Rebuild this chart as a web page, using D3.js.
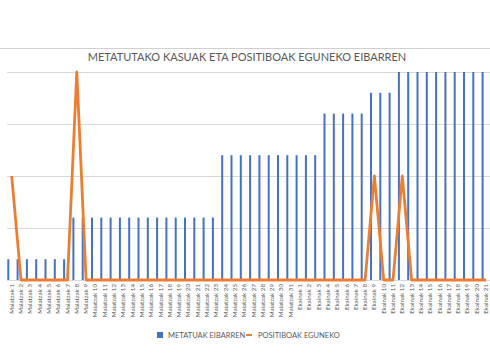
<!DOCTYPE html>
<html><head><meta charset="utf-8">
<script src="https://cdn.jsdelivr.net/npm/d3@7"></script>
<style>body{margin:0;background:#fff}svg{display:block}text{font-family:Lato,"Open Sans",sans-serif}</style>
</head><body><svg id="c" width="490" height="360"></svg>
<script>
const may = d3.range(1,32).map(d=>"Maiatzak "+d);
const jun = d3.range(1,22).map(d=>"Ekainak "+d);
const categories = may.concat(jun);
const metatuak = [1,1,1,1,1,1,1, 3,3,3,3,3,3,3,3,3,3,3,3,3,3,3,3, 6,6,6,6,6,6,6,6, 6,6,6, 8,8,8,8,8, 9,9,9, 10,10,10,10,10,10,10,10,10,10];
const positiboak = [2,0,0,0,0,0,0,4,0,0,0,0,0,0,0,0,0,0,0,0,0,0,0,0,0,0,0,0,0,0,0, 0,0,0,0,0,0,0,0,2,0,0,2,0,0,0,0,0,0,0,0,0];
const lineTicks = [0,1,2,3,4];
const title = "METATUTAKO KASUAK ETA POSITIBOAK EGUNEKO EIBARREN";
const seriesNames = ["METATUAK EIBARREN","POSITIBOAK EGUNEKO"];

const svg = d3.select("#c");
const x = d3.scaleBand().domain(categories).range([7.05, 490.65]).padding(0);
const yL = d3.scaleLinear().domain([0,4]).range([280,72]);
const yB = d3.scaleLinear().domain([0,10]).range([280,72]);

svg.append("line").attr("x1",0).attr("x2",490).attr("y1",48.5).attr("y2",48.5).attr("stroke","#d0d0d0").attr("stroke-width",1);
svg.append("text").attr("x",247).attr("y",61).attr("text-anchor","middle").attr("font-size",11).attr("fill","#595959").text(title);

svg.append("g").selectAll("line").data(lineTicks).join("line")
  .attr("x1",7).attr("x2",490).attr("y1",d=>Math.round(yL(d))+0.5).attr("y2",d=>Math.round(yL(d))+0.5)
  .attr("stroke","#d9d9d9").attr("stroke-width",1);

const bw = 2;
svg.append("g").selectAll("rect").data(metatuak).join("rect")
  .attr("x",(d,i)=>x(categories[i])+x.bandwidth()/2-3.4-bw/2)
  .attr("y",d=>yB(d)).attr("width",bw).attr("height",d=>yB(0)-yB(d))
  .attr("fill","#4472C4");

const line = d3.line().x((d,i)=>x(categories[i])+x.bandwidth()/2).y(d=>yL(d));
svg.append("path").datum(positiboak).attr("d",line).attr("fill","none")
  .attr("stroke","#ED7D31").attr("stroke-width",2.8).attr("stroke-linejoin","round");

const xa = d3.axisBottom(x).tickSize(0).tickPadding(0);
const gx = svg.append("g").attr("transform","translate(0,282)").call(xa);
gx.select(".domain").remove();
gx.selectAll("text").attr("font-size",6.2).attr("fill","#595959")
  .attr("text-anchor","end").attr("transform","rotate(-90)").attr("x",-2).attr("y",0).attr("dy","0.33em")
  .style("font-family","Lato,sans-serif");

const lg = svg.append("g");
lg.append("rect").attr("x",157).attr("y",332).attr("width",6).attr("height",6).attr("fill","#4472C4");
lg.append("text").attr("x",168).attr("y",338).attr("font-size",7.5).attr("fill","#595959").text(seriesNames[0]);
lg.append("line").attr("x1",246).attr("x2",252).attr("y1",335).attr("y2",335).attr("stroke","#ED7D31").attr("stroke-width",2);
lg.append("text").attr("x",258).attr("y",338).attr("font-size",7.5).attr("fill","#595959").text(seriesNames[1]);
</script></body></html>
